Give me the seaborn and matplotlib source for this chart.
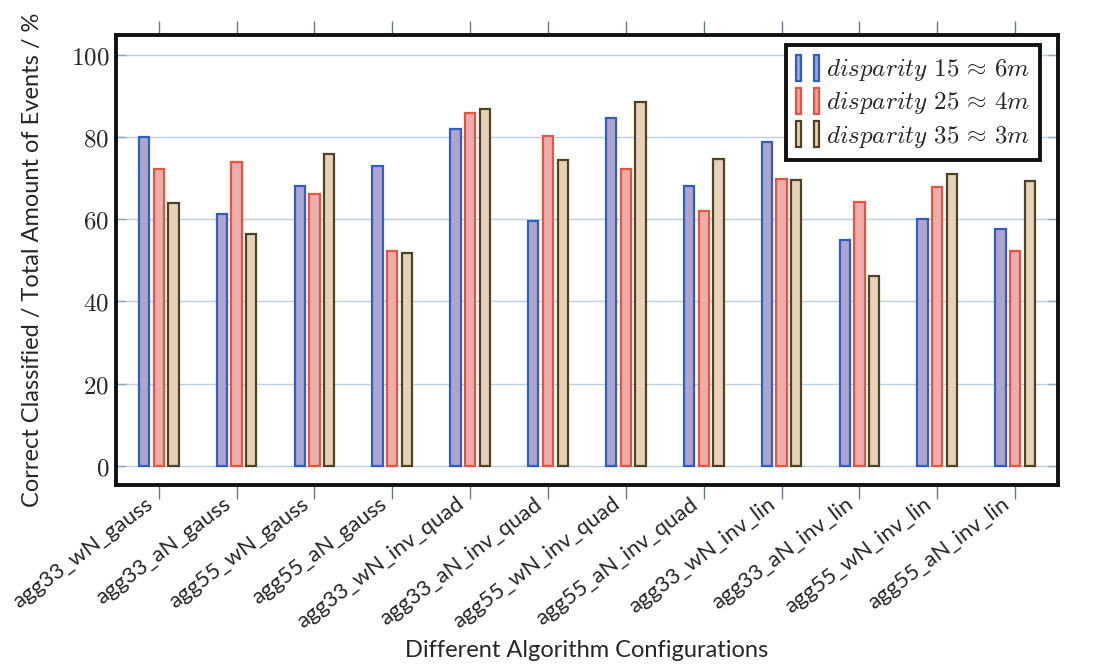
import matplotlib
matplotlib.use("Agg")
import matplotlib.pyplot as plt
import matplotlib.transforms as mtransforms
import seaborn as sns
import pandas as pd
from matplotlib.patches import Rectangle
from matplotlib.legend_handler import HandlerTuple

configs = ["agg33_wN_gauss", "agg33_aN_gauss", "agg55_wN_gauss", "agg55_aN_gauss",
           "agg33_wN_inv_quad", "agg33_aN_inv_quad", "agg55_wN_inv_quad", "agg55_aN_inv_quad",
           "agg33_wN_inv_lin", "agg33_aN_inv_lin", "agg55_wN_inv_lin", "agg55_aN_inv_lin"]
disp15 = [80.0, 61.3, 68.0, 72.9, 82.0, 59.6, 84.7, 68.0, 78.7, 55.0, 60.1, 57.6]
disp25 = [72.1, 73.9, 66.1, 52.2, 85.9, 80.2, 72.1, 62.0, 69.8, 64.1, 67.9, 52.2]
disp35 = [64.0, 56.5, 75.9, 51.8, 86.7, 74.3, 88.4, 74.7, 69.6, 46.2, 70.9, 69.4]
series_names = [r"$disparity\ 15\,\approx\,6m$", r"$disparity\ 25\,\approx\,4m$", r"$disparity\ 35\,\approx\,3m$"]
yticks = [0, 20, 40, 60, 80, 100]

fills = ["#ab9fd2", "#f5a4a2", "#f1d0b0"]
edges = ["#2f5fc6", "#e8553f", "#4d4423"]

rows = []
for name, vals in zip(series_names, [disp15, disp25, disp35]):
    for c, v in zip(configs, vals):
        rows.append({"config": c, "value": v, "series": name})
df = pd.DataFrame(rows)

sns.set_theme(style="white")
plt.rcParams["mathtext.fontset"] = "cm"
plt.rcParams["font.family"] = ["Lato", "DejaVu Sans"]

fig = plt.figure(figsize=(10.94, 6.67), dpi=100)
ax = fig.add_axes([0.106, 0.273, 0.861, 0.6745])

sns.barplot(data=df, x="config", y="value", hue="series", order=configs,
            hue_order=series_names, palette=fills, width=0.567, gap=0.3,
            linewidth=1.6, ax=ax, legend=False, errorbar=None)
for cont, ec in zip(ax.containers, edges):
    for p in cont:
        p.set_edgecolor(ec)
        p.set_linewidth(1.6)
        p.set_zorder(3)

ax.set_xlim(-0.55, 11.55)
ax.set_ylim(-4.6, 104.8)
ax.set_yticks(yticks)
ax.set_yticklabels([f"${t}$" for t in yticks], fontsize=18)
ax.yaxis.grid(True, color="#bcd0e4", linewidth=1.0, zorder=0)
ax.set_axisbelow(True)

ax.tick_params(axis="x", which="both", direction="out", length=10, width=1,
               color="#6b7b8b", top=True, bottom=True, labeltop=False, pad=3)
ax.tick_params(axis="y", direction="in", length=7, width=1, color="#8fa6bf",
               left=True, right=True, pad=5)

ax.set_xticks(range(len(configs)))
ax.set_xticklabels(configs, rotation=37, ha="right", va="top",
                   rotation_mode="anchor", fontsize=16)
offset = mtransforms.ScaledTranslation(-14 / 100, 9 / 100, fig.dpi_scale_trans)
for lbl in ax.get_xticklabels():
    lbl.set_transform(lbl.get_transform() + offset)

for s in ax.spines.values():
    s.set_color("#111111")
    s.set_linewidth(2.8)
    s.set_visible(True)

ax.set_xlabel("Different Algorithm Configurations", fontsize=17)
ax.xaxis.set_label_coords(0.5, -0.345)
ax.set_ylabel("Correct Classified / Total Amount of Events / %", fontsize=17, labelpad=20)

handles = []
for f, e in zip(fills, edges):
    r1 = Rectangle((0, 0), 1, 1, facecolor=f, edgecolor=e, linewidth=1.6)
    r2 = Rectangle((0, 0), 1, 1, facecolor=f, edgecolor=e, linewidth=1.6)
    handles.append((r1, r2))
leg = ax.legend(handles, series_names, handler_map={tuple: HandlerTuple(ndivide=None, pad=0.5)},
                loc="upper right", bbox_to_anchor=(0.981, 0.978), fontsize=18,
                frameon=True, fancybox=False, edgecolor="#111111", framealpha=1,
                handlelength=0.9, handleheight=1.2, handletextpad=0.3,
                labelspacing=0.2, borderpad=0.4, borderaxespad=0.0)
leg.get_frame().set_linewidth(2.8)
leg.set_zorder(5)

fig.savefig("out.png", dpi=100)
